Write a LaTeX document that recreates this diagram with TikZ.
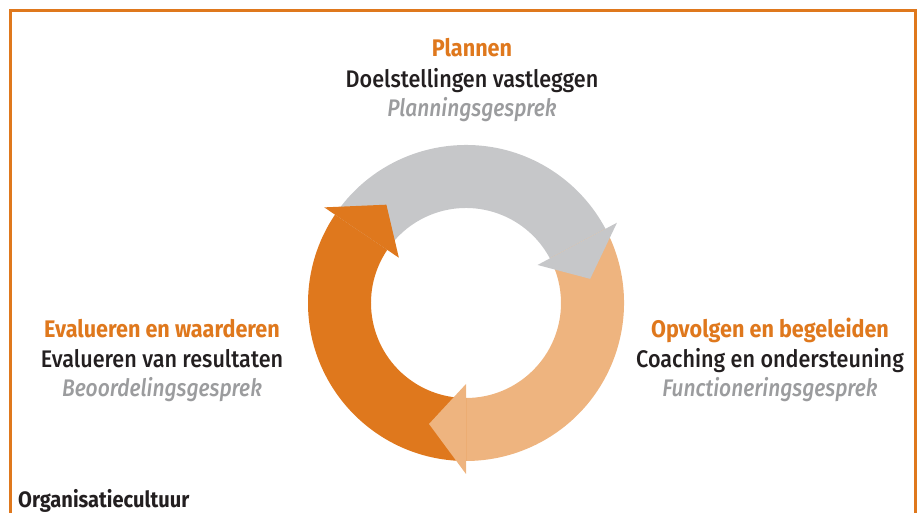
\documentclass[tikz,border=0pt]{standalone}
\usepackage{fontspec}
\setmainfont{Fira Sans}[FakeStretch=0.9, UprightFont=* Medium, BoldFont=* Bold,
  ItalicFont=* Medium Italic, ItalicFeatures={FakeStretch=0.875}]

\definecolor{oranje}{HTML}{DF781D}
\definecolor{lichtoranje}{HTML}{EEB47F}
\definecolor{grijs}{HTML}{C6C7C9}
\definecolor{tekstgrijs}{HTML}{9B9C9E}
\definecolor{zwart}{HTML}{231F20}

\tikzset{
  kader/.style={draw=oranje, line width=2.5pt},
  titel/.style={text=oranje, font=\fontsize{24}{28}\selectfont\bfseries, inner sep=0pt, anchor=base},
  taak/.style={text=zwart, font=\fontsize{24}{28}\selectfont, inner sep=0pt, anchor=base},
  gesprek/.style={text=tekstgrijs, font=\fontsize{24}{28}\selectfont\itshape, inner sep=0pt, anchor=base},
}

\begin{document}
\begin{tikzpicture}[x=1pt,y=1pt]
  \useasboundingbox (0,0) rectangle (919,513);
  \draw[kader] (10.5,-5) -- (10.5,502.5) -- (915.5,502.5) -- (915.5,-5);

  % ring: first the three bands, then the heads on top
  \begin{scope}[shift={(466,210)}]
    \foreach \kleur/\van/\tot in {grijs/146/28, lichtoranje/28/-90, oranje/270/146}
      {\fill[\kleur] (\van:158) arc[start angle=\van, end angle=\tot, radius=158]
        -- (\tot:95) arc[start angle=\tot, end angle=\van, radius=95] -- cycle;};
    \foreach \kleur/\tot in {grijs/28, lichtoranje/-90, oranje/146}
      {\fill[\kleur] (\tot:171) -- (\tot-17:126.5) -- (\tot:81) -- cycle;};
  \end{scope}

  \node[titel] (plannen) at (472,456) {Plannen};
  \node[taak] (plannen-taak) at ([yshift=-31]plannen.base) {Doelstellingen vastleggen};
  \node[gesprek] (plannen-gesprek) at ([yshift=-29]plannen-taak.base) {Planningsgesprek};

  \node[titel] (opvolgen) at (770,175) {Opvolgen en begeleiden};
  \node[taak] (opvolgen-taak) at ([yshift=-30]opvolgen.base) {Coaching en ondersteuning};
  \node[gesprek] (opvolgen-gesprek) at ([yshift=-29]opvolgen-taak.base) {Functioneringsgesprek};

  \node[titel] (evalueren) at (162,175) {Evalueren en waarderen};
  \node[taak] (evalueren-taak) at ([yshift=-30]evalueren.base) {Evalueren van resultaten};
  \node[gesprek] (evalueren-gesprek) at ([yshift=-29]evalueren-taak.base) {Beoordelingsgesprek};

  \node[taak, font=\fontsize{22.3}{26}\selectfont\bfseries, anchor=base west] (cultuur) at (18,5) {Organisatiecultuur};
\end{tikzpicture}
\end{document}
